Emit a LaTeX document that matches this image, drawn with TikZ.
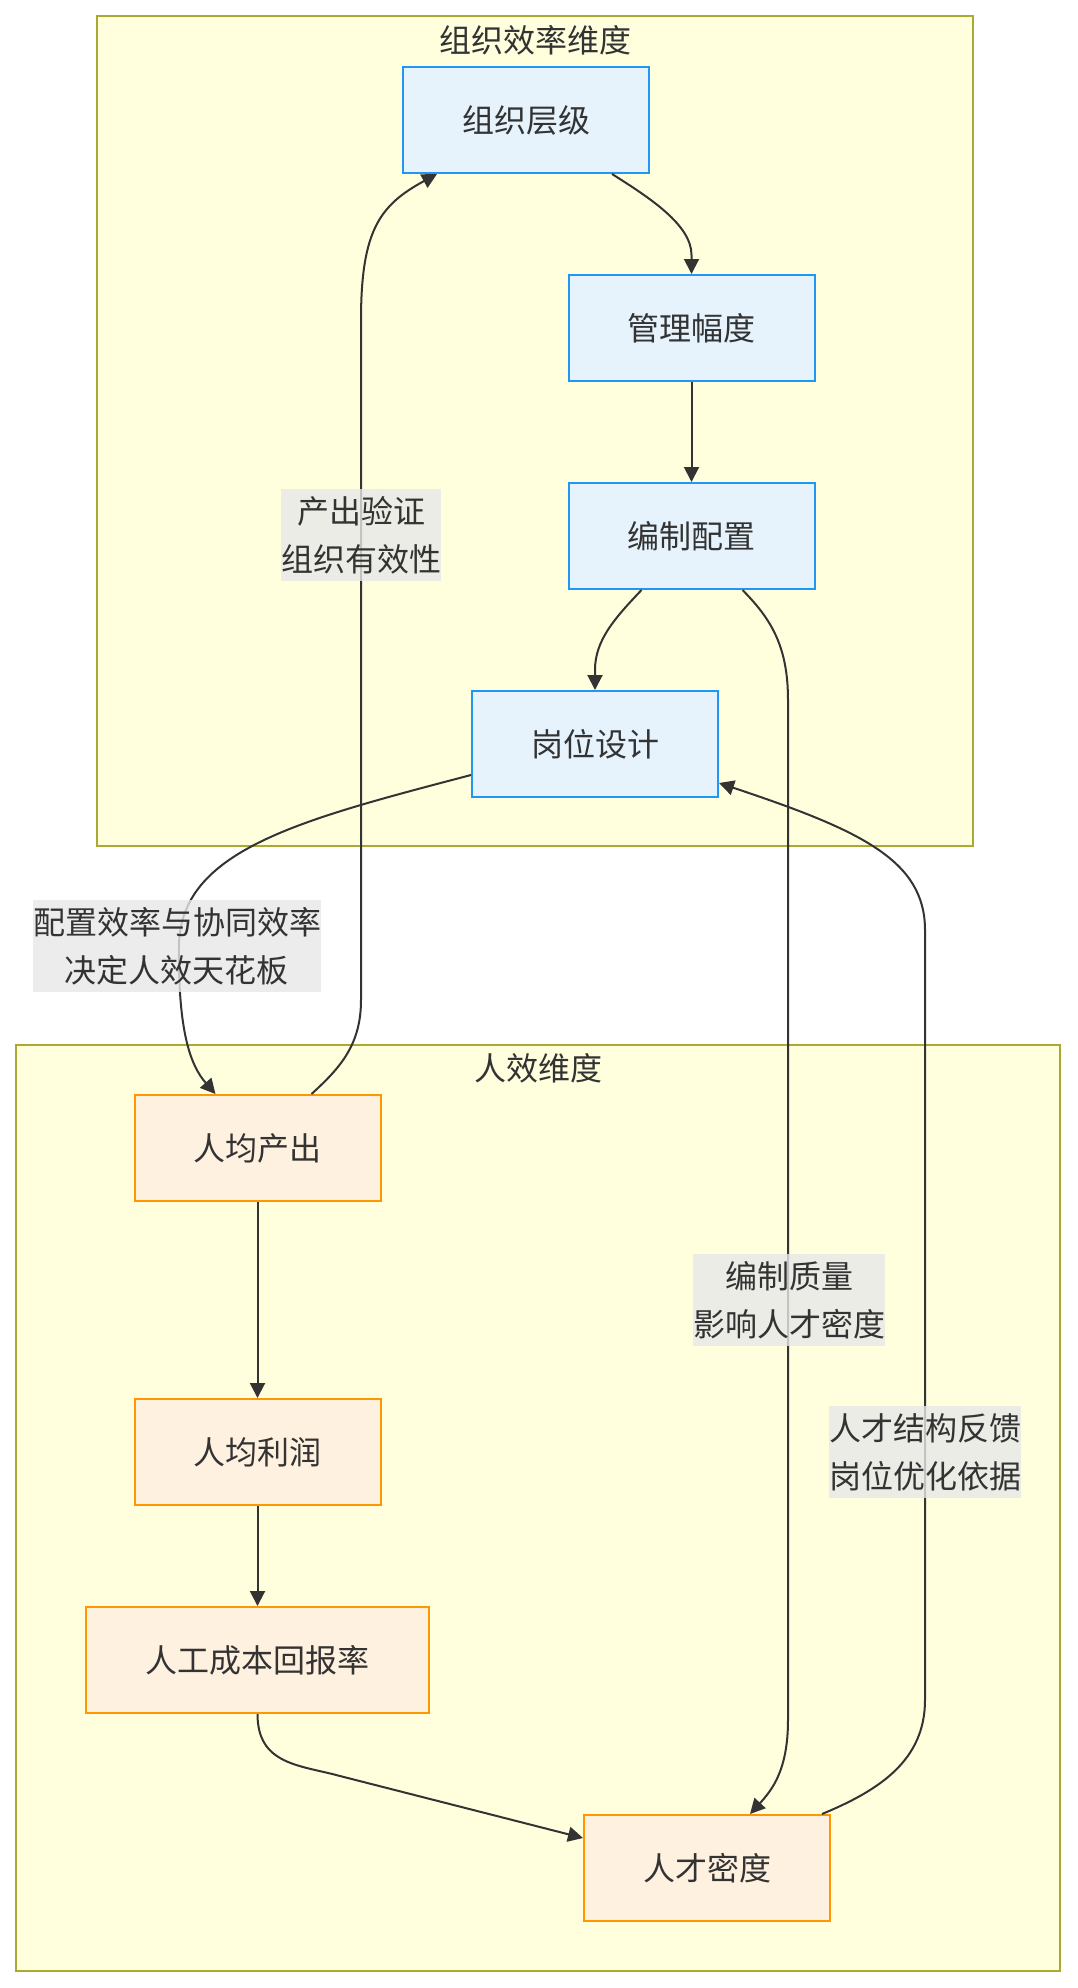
\documentclass[tikz,border=0pt]{standalone}
\usepackage{fontspec}
\setmainfont{Noto Sans CJK SC}
\usetikzlibrary{arrows.meta,calc}
\definecolor{clfill}{HTML}{FFFFDE}
\definecolor{clstroke}{HTML}{AAAA33}
\definecolor{bfill}{HTML}{E6F3FD}
\definecolor{bstroke}{HTML}{2196F3}
\definecolor{ofill}{HTML}{FFF1DF}
\definecolor{ostroke}{HTML}{FF9800}
\definecolor{txt}{HTML}{333333}
\definecolor{lblbg}{HTML}{E8E8E8}
\begin{document}
\begin{tikzpicture}[x=1pt,y=-1pt,
  every node/.style={text=txt, font=\fontsize{32}{48}\selectfont},
  bluebox/.style={draw=bstroke, fill=bfill, line width=2pt, minimum width=246pt, minimum height=106pt, inner sep=0pt},
  orangebox/.style={draw=ostroke, fill=ofill, line width=2pt, minimum width=246pt, minimum height=106pt, inner sep=0pt},
  cluster/.style={draw=clstroke, fill=clfill, line width=2pt},
  edge/.style={draw=txt, line width=2pt, -{Triangle[length=15pt,width=15pt]}},
  elabel/.style={fill=lblbg, fill opacity=0.8, text opacity=1, inner xsep=0pt, inner ysep=7pt, align=center}
]
\path[fill=white] (0,0) rectangle (1077,1988);
\useasboundingbox (0,0) rectangle (1077,1988);

% clusters
\draw[cluster] (97,16) rectangle (973,846);
\node (t1) at (535.5,40) {组织效率维度};
\draw[cluster] (16,1045) rectangle (1060,1971);
\node (t2) at (538.5,1068) {人效维度};

% nodes
\node[bluebox] (zzcj) at (526,120) {组织层级};
\node[bluebox] (glfd) at (691.5,328) {管理幅度};
\node[bluebox] (bzpz) at (691.5,536) {编制配置};
\node[bluebox] (gwsj) at (595,744) {岗位设计};
\node[orangebox] (rjcc) at (257.5,1148) {人均产出};
\node[orangebox] (rjlr) at (257.5,1452) {人均利润};
\node[orangebox, minimum width=343pt] (rgcb) at (257.5,1660) {人工成本回报率};
\node[orangebox] (rcmd) at (707,1868) {人才密度};

% edges
\draw[edge] ($(zzcj.south)+(86,0)$) .. controls (650,198) and (691.5,225) .. (691.5,255) -- (glfd.north);
\draw[edge] (glfd.south) -- (bzpz.north);
\draw[edge] ($(bzpz.south)+(-50,0)$) .. controls (615,618) and (595,640) .. (595,670) -- (gwsj.north);
\draw[edge] ($(bzpz.south)+(51,0)$) .. controls (770,618) and (788,645) .. (788,700) -- (788,1720) .. controls (788,1770) and (772,1790) .. ($(rcmd.north)+(43,0)$);
\draw[edge] ($(gwsj.west)+(0,31)$) .. controls (300,820) and (180,850) .. (179,946) .. controls (178,1030) and (190,1065) .. ($(rjcc.north)+(-42,0)$);
\draw[edge] ($(rjcc.north)+(54,0)$) .. controls (340,1068) and (361,1045) .. (361,1000) -- (361,320) .. controls (361,230) and (380,205) .. ($(zzcj.south)+(-89,0)$);
\draw[edge] (rjcc.south) -- (rjlr.north);
\draw[edge] (rjlr.south) -- (rgcb.north);
\draw[edge] (rgcb.south) .. controls (257.5,1765) and (300,1765) .. (340,1776) -- ($(rcmd.west)+(0,-30)$);
\draw[edge] ($(rcmd.north)+(115,0)$) .. controls (880,1790) and (925,1760) .. (925,1700) -- (925,930) .. controls (925,860) and (860,830) .. ($(gwsj.east)+(0,39)$);

% edge labels
\node[elabel] (l1) at (361,535) {产出验证\\组织有效性};
\node[elabel] (l2) at (177,946) {配置效率与协同效率\\决定人效天花板};
\node[elabel] (l3) at (789,1300) {编制质量\\影响人才密度};
\node[elabel] (l4) at (925,1452) {人才结构反馈\\岗位优化依据};
\end{tikzpicture}
\end{document}
